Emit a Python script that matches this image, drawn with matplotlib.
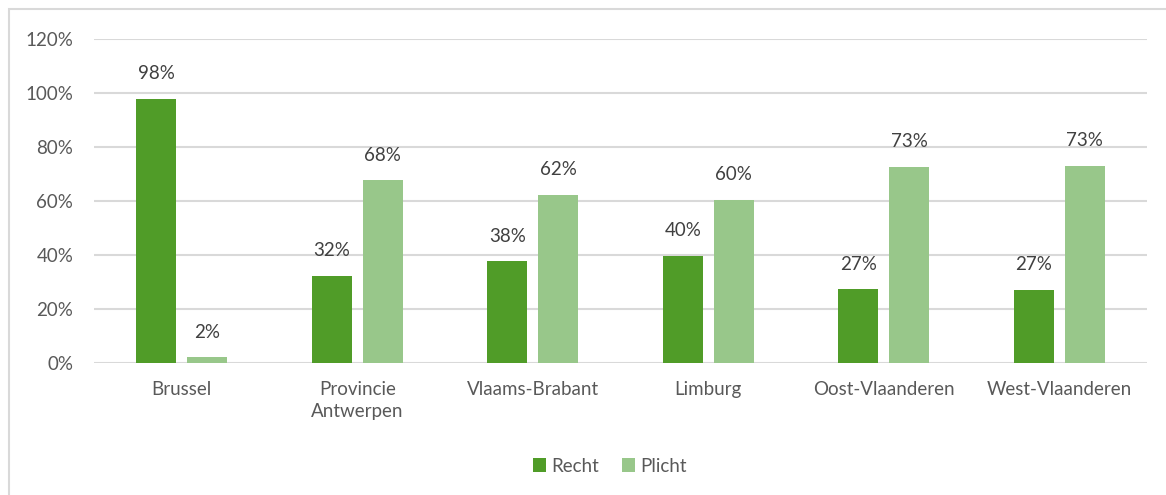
import matplotlib.pyplot as plt
import matplotlib.patches as mpatches
import numpy as np

plt.rcParams['font.family'] = ['Lato', 'DejaVu Sans']

categories = ['Brussel', 'Provincie\nAntwerpen', 'Vlaams-Brabant', 'Limburg',
              'Oost-Vlaanderen', 'West-Vlaanderen']
recht = [98, 32, 38, 40, 27, 27]
plicht = [2, 68, 62, 60, 73, 73]
recht_bars = [97.9, 32.3, 37.6, 39.6, 27.3, 27.0]
plicht_bars = [2.1, 67.7, 62.4, 60.4, 72.7, 73.0]
yticks = [0, 20, 40, 60, 80, 100, 120]

c_recht = '#509C28'
c_plicht = '#98C78A'
txt = '#595959'

W, H = 1166, 495
fig = plt.figure(figsize=(W / 100, H / 100), dpi=100)
ax = fig.add_axes([94 / W, 1 - 363 / H, (1147 - 94) / W, (363 - 39) / H])

# rand rond de grafiek
fig.patches.append(mpatches.Rectangle((9 / W, -0.1), 1.2, 1 - 9 / H + 0.1,
                                      transform=fig.transFigure, fill=False,
                                      edgecolor='#D9D9D9', linewidth=1.5))

x = np.arange(len(categories))
bw = 0.228
gap = 0.06
b1 = ax.bar(x - (bw + gap) / 2, recht_bars, bw, color=c_recht, zorder=3, label='Recht')
b2 = ax.bar(x + (bw + gap) / 2, plicht_bars, bw, color=c_plicht, zorder=3, label='Plicht')

for bars, vals in [(b1, recht), (b2, plicht)]:
    for bar, v in zip(bars, vals):
        ax.annotate(f'{v}%', (bar.get_x() + bar.get_width() / 2, bar.get_height()),
                    xytext=(0, 12), textcoords='offset points', ha='center', va='bottom',
                    fontsize=13.5, color='#404040')

ax.set_xlim(-0.5, len(categories) - 0.5)
ax.set_ylim(0, 120)
ax.set_yticks(yticks)
ax.set_yticklabels([f'{t}%' for t in yticks])
ax.set_xticks(x)
ax.set_xticklabels(categories, linespacing=1.35)
ax.tick_params(axis='both', length=0, labelsize=13.5, colors=txt)
ax.tick_params(axis='y', pad=15)
ax.tick_params(axis='x', pad=13)
ax.grid(axis='y', color='#D9D9D9', linewidth=1.5, zorder=0)
for s in ax.spines.values():
    s.set_visible(False)

fig.legend(handles=[b1, b2], labels=['Recht', 'Plicht'], loc='center',
           bbox_to_anchor=(610 / W, 1 - 466 / H), ncol=2, frameon=False,
           fontsize=13.5, labelcolor=txt, handlelength=0.7, handleheight=0.7,
           handletextpad=0.3, columnspacing=1.2)

fig.savefig('out.png', dpi=100)
